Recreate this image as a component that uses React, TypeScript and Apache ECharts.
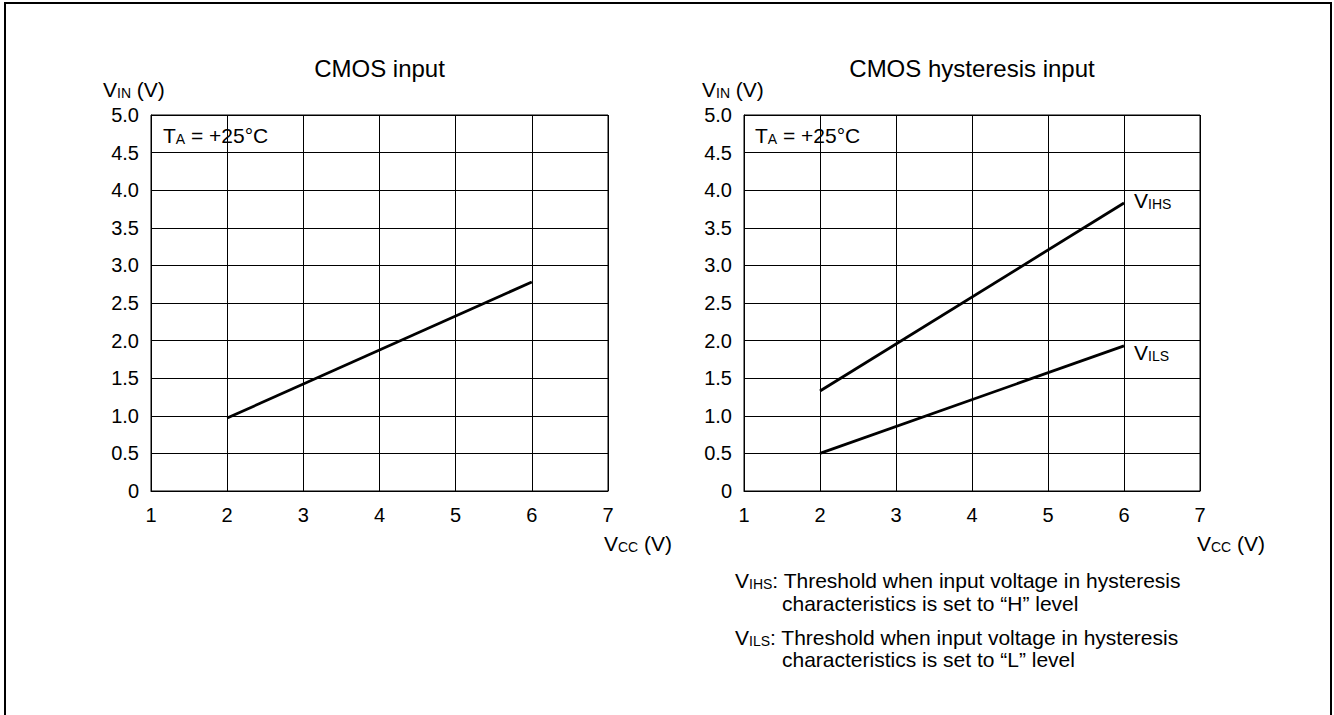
import React, { useEffect, useRef } from 'react';
import * as echarts from 'echarts';

const FONT = '"Liberation Sans", Arial, Helvetica, sans-serif';

// axis ranges
const yMin = 0;
const yMax = 5;
const yStep = 0.5;
const xMin = 1;
const xMax = 7;
const xStep = 1;

// CMOS input threshold
const cmosVcc = [2, 6];
const cmosVin = [0.97, 2.78];

// CMOS hysteresis input thresholds
const hystVcc = [2, 6];
const vihsVin = [1.33, 3.83];
const vilsVin = [0.5, 1.93];

const titles = ['CMOS input', 'CMOS hysteresis input'];
const noteH = ['Threshold when input voltage in hysteresis', 'characteristics is set to \u201CH\u201D level'];
const noteL = ['Threshold when input voltage in hysteresis', 'characteristics is set to \u201CL\u201D level'];

const BIG = 21;
const SMALL = 14;
const C = 0.3465;

const rich = {
  b: { fontSize: BIG, fontFamily: FONT, fill: '#000', lineHeight: BIG, verticalAlign: 'bottom' },
  s: { fontSize: SMALL, fontFamily: FONT, fill: '#000', lineHeight: BIG - 2 * C * (BIG - SMALL), verticalAlign: 'bottom' },
};

function label(x: number, baseline: number, text: string, align: string = 'left', size: number = BIG) {
  return {
    type: 'text',
    x,
    y: baseline - C * size,
    silent: true,
    style: {
      text,
      rich,
      fontSize: size,
      fontFamily: FONT,
      fill: '#000',
      align,
      verticalAlign: 'middle',
    },
  };
}

function pairs(xs: number[], ys: number[]) {
  return xs.map((x, i) => [x, ys[i]]);
}

export default function App() {
  const ref = useRef<HTMLDivElement>(null);
  useEffect(() => {
    if (!ref.current) return;
    const chart = echarts.init(ref.current, undefined, { renderer: 'svg' });
    const grids = [
      { left: 151, top: 115, width: 457, height: 376 },
      { left: 744, top: 115, width: 456, height: 376 },
    ];
    const xAxis = grids.map((_, i) => ({
      type: 'value',
      gridIndex: i,
      min: xMin,
      max: xMax,
      interval: xStep,
      axisLine: { show: true, lineStyle: { color: '#000', width: 1 } },
      axisTick: { show: false },
      axisLabel: { color: '#000', fontSize: 20, fontFamily: FONT, margin: 14 },
      splitLine: { show: true, lineStyle: { color: '#000', width: 1 } },
    }));
    const yAxis = grids.map((_, i) => ({
      type: 'value',
      gridIndex: i,
      min: yMin,
      max: yMax,
      interval: yStep,
      axisLine: { show: true, lineStyle: { color: '#000', width: 1 } },
      axisTick: { show: false },
      axisLabel: {
        color: '#000',
        fontSize: 20,
        fontFamily: FONT,
        margin: 12,
        formatter: (v: number) => (v === 0 ? '0' : v.toFixed(1)),
      },
      splitLine: { show: true, lineStyle: { color: '#000', width: 1 } },
    }));
    const lineStyle = { color: '#000', width: 2.8 };
    const series = [
      { name: 'VIN', type: 'line', xAxisIndex: 0, yAxisIndex: 0, data: pairs(cmosVcc, cmosVin), showSymbol: false, lineStyle, silent: true },
      { name: 'VIHS', type: 'line', xAxisIndex: 1, yAxisIndex: 1, data: pairs(hystVcc, vihsVin), showSymbol: false, lineStyle, silent: true },
      { name: 'VILS', type: 'line', xAxisIndex: 1, yAxisIndex: 1, data: pairs(hystVcc, vilsVin), showSymbol: false, lineStyle, silent: true },
    ];
    const graphic = [
      {
        type: 'rect',
        shape: { x: 5, y: 3, width: 1326, height: 740 },
        style: { fill: 'none', stroke: '#000', lineWidth: 2 },
        silent: true,
      },
      label(379.5, 77, titles[0], 'center', 24),
      label(972, 77, titles[1], 'center', 24),
      label(103, 97, '{b|V}{s|IN}{b| (V)}'),
      label(702, 97, '{b|V}{s|IN}{b| (V)}'),
      label(163, 143, '{b|T}{s|A}{b| = +25\u00B0C}'),
      label(755, 143, '{b|T}{s|A}{b| = +25\u00B0C}'),
      label(1134, 208, '{b|V}{s|IHS}'),
      label(1134, 360, '{b|V}{s|ILS}'),
      label(604, 551, '{b|V}{s|CC}{b| (V)}'),
      label(1197, 551, '{b|V}{s|CC}{b| (V)}'),
      label(735, 588, '{b|V}{s|IHS}{b|: ' + noteH[0] + '}'),
      label(782, 611, '{b|' + noteH[1] + '}'),
      label(735, 645, '{b|V}{s|ILS}{b|: ' + noteL[0] + '}'),
      label(782, 667, '{b|' + noteL[1] + '}'),
    ];
    chart.setOption({
      animation: false,
      backgroundColor: '#fff',
      grid: grids.map((g) => ({ ...g, show: true, borderColor: '#000', borderWidth: 1, backgroundColor: 'transparent' })),
      xAxis,
      yAxis,
      series,
      graphic,
    });
    return () => chart.dispose();
  }, []);
  return (
    <div
      ref={ref}
      style={{ position: 'absolute', left: 0, top: 0, width: 1334, height: 715, background: '#fff' }}
    />
  );
}
